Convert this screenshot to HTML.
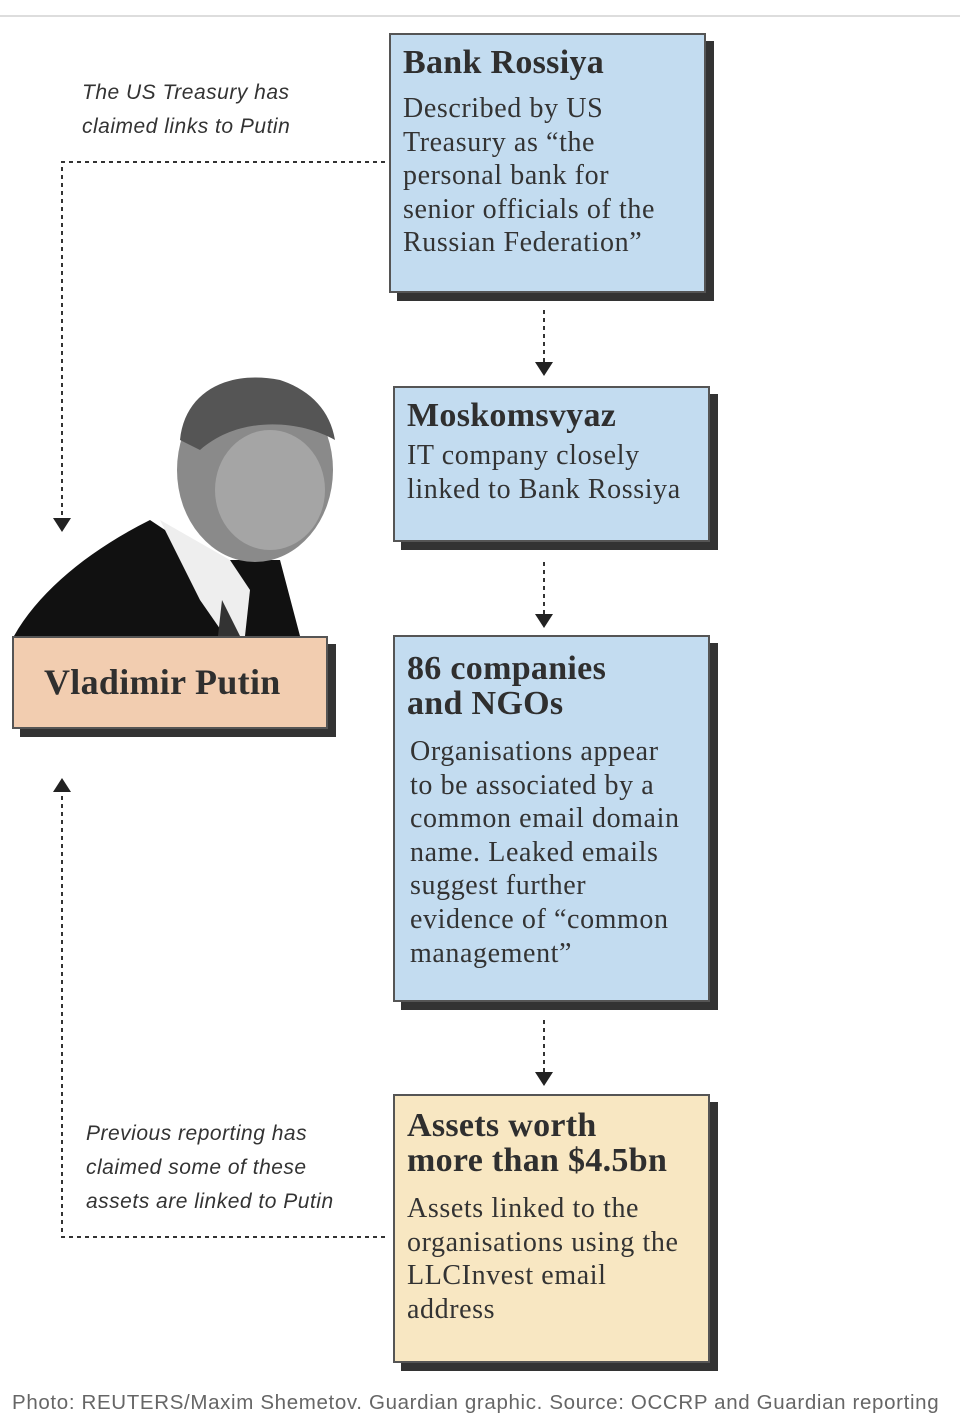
<!DOCTYPE html>
<html><head><meta charset="utf-8"><style>
body{margin:0;width:960px;height:1419px;background:#fff;position:relative;overflow:hidden;font-family:"Liberation Serif",serif;color:#333}
.box{position:absolute;border:2px solid #555;box-shadow:8px 8px 0 #333;box-sizing:border-box;padding:0 12px}
.blue{background:#c3dcf0}
h2{margin:0;font-size:34px;font-weight:bold;line-height:35px;color:#2f2f2f;letter-spacing:0.3px}
p{margin:0;font-size:28px;line-height:33.6px;color:#333;letter-spacing:0.6px;white-space:nowrap}
.note{position:absolute;font-family:"Liberation Sans",sans-serif;font-style:italic;font-size:21px;line-height:34px;color:#333;letter-spacing:0.5px}
.cap{position:absolute;left:12px;top:1391px;font-family:"Liberation Sans",sans-serif;font-size:20.5px;color:#666;white-space:nowrap;letter-spacing:0.65px}
</style></head><body>
<div style="position:absolute;left:0;top:15px;width:960px;height:2px;background:#ddd"></div>
<svg width="960" height="1419" style="position:absolute;left:0;top:0">
<g stroke="#333" stroke-width="2" stroke-dasharray="4,4" fill="none">
<path d="M385 162H62V518"/>
<path d="M385 1237H62V792"/>
<path d="M544 310V364"/><path d="M544 562V616"/><path d="M544 1020V1074"/>
</g>
<g fill="#222">
<path d="M53 518h18l-9 14z"/><path d="M53 792h18l-9-14z"/>
<path d="M535 362h18l-9 14z"/><path d="M535 614h18l-9 14z"/><path d="M535 1072h18l-9 14z"/>
</g>
<path d="M14 636 C40 590 90 550 150 520 L210 560 L280 560 L300 636Z" fill="#111"/>
<path d="M160 520 L200 600 L225 636 L245 636 L250 590 L230 560Z" fill="#eee"/>
<path d="M222 600 L240 636 L218 636Z" fill="#333"/>
<ellipse cx="255" cy="470" rx="78" ry="92" fill="#8a8a8a"/>
<path d="M180 440 C185 390 230 370 280 380 C310 390 330 410 335 440 C300 420 240 415 200 450Z" fill="#555"/>
<ellipse cx="270" cy="490" rx="55" ry="60" fill="#a5a5a5"/>
</svg>
<div class="note" style="left:82px;top:76px">The US Treasury has<br>claimed links to Putin</div>
<div class="note" style="left:86px;top:1117px">Previous reporting has<br>claimed some of these<br>assets are linked to Putin</div>
<div class="box blue" style="left:389px;top:33px;width:317px;height:260px;padding-top:10px">
<h2>Bank Rossiya</h2><p style="margin-top:12px">Described by US<br>Treasury as “the<br>personal bank for<br>senior officials of the<br>Russian Federation”</p></div>
<div class="box blue" style="left:393px;top:386px;width:317px;height:156px;padding-top:10px">
<h2>Moskomsvyaz</h2><p style="margin-top:6px">IT company closely<br>linked to Bank Rossiya</p></div>
<div class="box blue" style="left:393px;top:635px;width:317px;height:367px;padding-top:14px">
<h2>86 companies<br>and NGOs</h2><p style="margin-top:14px;padding-left:3px">Organisations appear<br>to be associated by a<br>common email domain<br>name. Leaked emails<br>suggest further<br>evidence of “common<br>management”</p></div>
<div class="box" style="left:393px;top:1094px;width:317px;height:269px;padding-top:12px;background:#f8e7c2">
<h2>Assets worth<br>more than $4.5bn</h2><p style="margin-top:14px">Assets linked to the<br>organisations using the<br>LLCInvest email<br>address</p></div>
<div class="box" style="left:12px;top:636px;width:316px;height:93px;background:#f2cdb0;padding:27px 0 0 30px"><h2 style="font-size:36px">Vladimir Putin</h2></div>
<div class="cap">Photo: REUTERS/Maxim Shemetov. Guardian graphic. Source: OCCRP and Guardian reporting</div>
</body></html>
